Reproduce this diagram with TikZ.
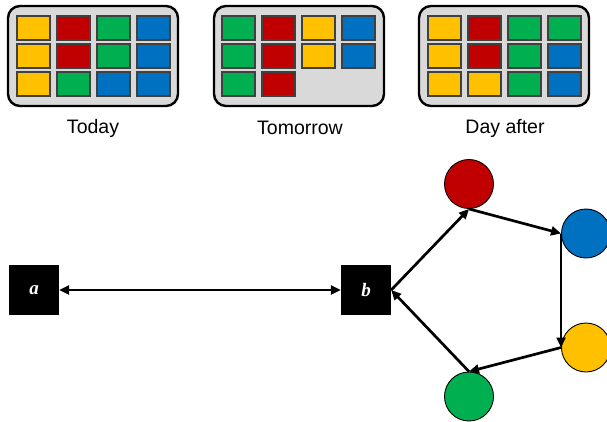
\documentclass[tikz,border=0pt]{standalone}
\usepackage{fontspec}
\setmainfont{Liberation Sans}
\newfontfamily\serifbi{Liberation Serif}
\usetikzlibrary{arrows.meta}
\definecolor{cyel}{HTML}{FFC000}
\definecolor{cred}{HTML}{C00000}
\definecolor{cgrn}{HTML}{00B050}
\definecolor{cblu}{HTML}{0070C0}
\definecolor{cgray}{HTML}{D9D9D9}
\definecolor{cedge}{HTML}{404040}
\begin{document}
\begin{tikzpicture}[x=1pt,y=-1pt,
  panel/.style={draw=black,line width=2.4pt,fill=cgray,rounded corners=12pt,minimum width=170pt,minimum height=100pt,inner sep=0pt},
  cell/.style={draw=cedge,line width=1.1pt,minimum width=33pt,minimum height=24pt,inner sep=0pt},
  lbl/.style={font=\fontsize{19.5}{21}\selectfont,inner sep=0pt},
  sq/.style={fill=black,minimum size=50pt,inner sep=0pt,text=white,font=\serifbi\bfseries\itshape\fontsize{19}{20}\selectfont},
  dot/.style={circle,draw=black,line width=0.9pt,minimum size=49pt,inner sep=0pt},
  conn/.style={line width=2.7pt,arrows={-{Triangle[length=10pt,width=9pt]}}},
  conn2/.style={line width=2.7pt,arrows={{Triangle[length=10pt,width=9pt]}-{Triangle[length=10pt,width=9pt]}}}
]
\useasboundingbox (0,0) rectangle (607,422);
% panels
\node[panel] (p1) at (93,56) {};
\node[panel] (p2) at (299,56) {};
\node[panel] (p3) at (504,56) {};
% panel 1
\foreach \col [count=\i] in {cyel,cred,cgrn,cblu}
  \node[cell,fill=\col] (pa1\i) at ({33.5+40*(\i-1)},28) {};
\foreach \col [count=\i] in {cyel,cred,cgrn,cblu}
  \node[cell,fill=\col] (pa2\i) at ({33.5+40*(\i-1)},56) {};
\foreach \col [count=\i] in {cyel,cgrn,cblu,cblu}
  \node[cell,fill=\col] (pa3\i) at ({33.5+40*(\i-1)},84) {};
% panel 2
\foreach \col [count=\i] in {cgrn,cred,cyel,cblu}
  \node[cell,fill=\col] (pb1\i) at ({238.5+40*(\i-1)},28) {};
\foreach \col [count=\i] in {cgrn,cred,cyel,cblu}
  \node[cell,fill=\col] (pb2\i) at ({238.5+40*(\i-1)},56) {};
\foreach \col [count=\i] in {cgrn,cred}
  \node[cell,fill=\col] (pb3\i) at ({238.5+40*(\i-1)},84) {};
% panel 3
\foreach \col [count=\i] in {cyel,cred,cgrn,cgrn}
  \node[cell,fill=\col] (pc1\i) at ({444.5+40*(\i-1)},28) {};
\foreach \col [count=\i] in {cyel,cred,cgrn,cblu}
  \node[cell,fill=\col] (pc2\i) at ({444.5+40*(\i-1)},56) {};
\foreach \col [count=\i] in {cyel,cyel,cgrn,cblu}
  \node[cell,fill=\col] (pc3\i) at ({444.5+40*(\i-1)},84) {};
% labels
\node[lbl] (l1) at (93,128) {Today};
\node[lbl] (l2) at (300,128) {Tomorrow};
\node[lbl] (l3) at (505,128) {Day after};
% graph
\node[sq] (a) at (34,290) {a};
\node[sq] (b) at (366,290) {b};
\node[dot,fill=cred] (red) at (469,184) {};
\node[dot,fill=cblu] (blue) at (586,233.5) {};
\node[dot,fill=cyel] (yellow) at (586,347.5) {};
\node[dot,fill=cgrn] (green) at (469,396.5) {};
\draw[conn2] (a.east) -- (b.west);
\draw[conn] (b.east) -- (red.south);
\draw[conn] (red.south) -- (blue.west);
\draw[conn] (blue.west) -- (yellow.west);
\draw[conn] (yellow.west) -- (green.north);
\draw[conn] (green.north) -- (b.east);
\end{tikzpicture}
\end{document}
